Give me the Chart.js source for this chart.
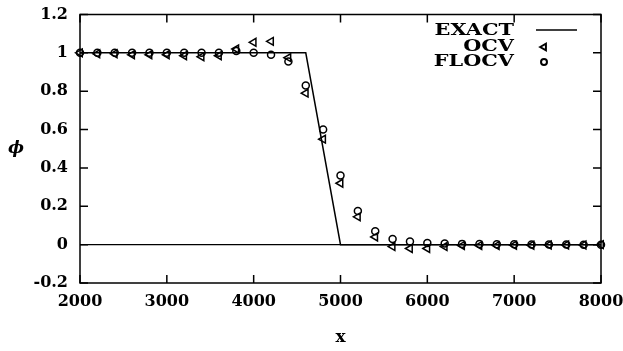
<!DOCTYPE html>
<html>
<head>
<meta charset="utf-8">
<script src="https://cdn.jsdelivr.net/npm/chart.js@4/dist/chart.umd.min.js"></script>
<style>
  html, body { margin: 0; padding: 0; background: #fff; }
  #wrap { width: 623px; height: 351px; }
</style>
</head>
<body>
<div id="wrap"><canvas id="phiChart" width="623" height="351"></canvas></div>
<script>
// grid positions along x
const xValues = [2000, 2200, 2400, 2600, 2800, 3000, 3200, 3400, 3600, 3800,
  4000, 4200, 4400, 4600, 4800, 5000, 5200, 5400, 5600, 5800,
  6000, 6200, 6400, 6600, 6800, 7000, 7200, 7400, 7600, 7800, 8000];

// OCV scheme
const ocvValues = [1.0, 0.995, 0.995, 0.99, 0.99, 0.99, 0.985, 0.98, 0.985, 1.02,
  1.055, 1.06, 0.975, 0.79, 0.55, 0.32, 0.145, 0.04, -0.01, -0.02,
  -0.02, -0.01, -0.005, -0.005, -0.005, -0.003, -0.003, -0.002, -0.002, -0.002, 0.0];

// FLOCV scheme
const flocvValues = [1.0, 1.0, 1.0, 1.0, 1.0, 1.0, 1.0, 1.0, 1.0, 1.01,
  1.0, 0.99, 0.955, 0.83, 0.6, 0.36, 0.175, 0.07, 0.03, 0.017,
  0.008, 0.006, 0.004, 0.003, 0.002, 0.002, 0.001, 0.001, 0.001, 0.0, 0.0];

// exact solution (ramp)
const exactX = [2000, 4600, 5000, 8000];
const exactY = [1, 1, 0, 0];

const xTicks = [2000, 3000, 4000, 5000, 6000, 7000, 8000];
const yTicks = [-0.2, 0, 0.2, 0.4, 0.6, 0.8, 1, 1.2];

const serif = "'DejaVu Serif', 'Liberation Serif', serif";

function toPoints(xs, ys) {
  return xs.map((x, i) => ({ x: x, y: ys[i] }));
}

// frame, inward ticks on all four sides, upright phi label and the key
const framePlugin = {
  id: "frame",
  afterDraw(chart) {
    const ctx = chart.ctx;
    const a = chart.chartArea;
    const xs = chart.scales.x;
    const ys = chart.scales.y;
    const len = 8;
    ctx.save();
    ctx.strokeStyle = "#000";
    ctx.lineWidth = 1.5;
    ctx.strokeRect(a.left, a.top, a.right - a.left, a.bottom - a.top);
    ctx.beginPath();
    xs.ticks.forEach((t) => {
      const px = xs.getPixelForValue(t.value);
      ctx.moveTo(px, a.bottom);
      ctx.lineTo(px, a.bottom - len);
      ctx.moveTo(px, a.top);
      ctx.lineTo(px, a.top + len);
    });
    ys.ticks.forEach((t) => {
      const py = ys.getPixelForValue(t.value);
      ctx.moveTo(a.left, py);
      ctx.lineTo(a.left + len, py);
      ctx.moveTo(a.right, py);
      ctx.lineTo(a.right - len, py);
    });
    ctx.stroke();

    // y axis title, kept upright
    ctx.fillStyle = "#000";
    ctx.font = "italic bold 17px " + serif;
    ctx.textAlign = "center";
    ctx.textBaseline = "middle";
    ctx.fillText("\u03D5", 16, (a.top + a.bottom) / 2);

    // key: right aligned wide labels with the sample to the right
    const textRight = 514;
    const sampleX = 556;
    const rows = [31, 47, 62];
    const stretch = 1.3;
    chart.data.datasets.forEach((ds, i) => {
      const y = rows[i];
      ctx.save();
      ctx.fillStyle = "#000";
      ctx.font = "bold 16px " + serif;
      ctx.textAlign = "right";
      ctx.translate(textRight, y);
      ctx.scale(stretch, 1);
      ctx.fillText(ds.label, 0, 0);
      ctx.restore();
      ctx.lineWidth = ds.borderWidth;
      if (ds.showLine) {
        ctx.beginPath();
        ctx.moveTo(sampleX - 20, y - 1);
        ctx.lineTo(sampleX + 21, y - 1);
        ctx.stroke();
      } else {
        ctx.save();
        ctx.fillStyle = "rgba(0,0,0,0)";
        ctx.lineWidth = 2;
        Chart.helpers.drawPoint(ctx, {
          pointStyle: ds.pointStyle,
          rotation: ds.rotation || 0,
          radius: ds.pointRadius * 0.85,
          borderWidth: 2
        }, sampleX - 12, y);
        ctx.restore();
      }
    });
    ctx.restore();
  }
};

const ctx = document.getElementById("phiChart").getContext("2d");
const phiChart = new Chart(ctx, {
  type: "scatter",
  data: {
    datasets: [
      {
        label: "EXACT",
        data: toPoints(exactX, exactY),
        showLine: true,
        borderColor: "#000",
        borderWidth: 1.5,
        pointRadius: 0,
        tension: 0
      },
      {
        label: "OCV",
        data: toPoints(xValues, ocvValues),
        pointStyle: "triangle",
        rotation: -90,
        pointRadius: 4.5,
        borderColor: "#000",
        backgroundColor: "rgba(0,0,0,0)",
        borderWidth: 1.5
      },
      {
        label: "FLOCV",
        data: toPoints(xValues, flocvValues),
        pointStyle: "circle",
        pointRadius: 3.5,
        borderColor: "#000",
        backgroundColor: "rgba(0,0,0,0)",
        borderWidth: 1.5
      }
    ]
  },
  options: {
    responsive: false,
    animation: false,
    clip: false,
    layout: { padding: { top: 14.5, right: 22, left: 0, bottom: 0 } },
    plugins: {
      legend: { display: false },
      tooltip: { enabled: false }
    },
    scales: {
      x: {
        type: "linear",
        min: 2000,
        max: 8000,
        afterFit(scale) {
          scale.height = 68;
          scale.paddingLeft = 0;
          scale.paddingRight = 0;
        },
        afterBuildTicks(scale) { scale.ticks = xTicks.map((v) => ({ value: v })); },
        grid: { display: false, drawTicks: false },
        border: { display: false },
        ticks: {
          color: "#000",
          padding: 9,
          maxRotation: 0,
          font: { family: serif, size: 16, weight: "bold" },
          callback: (v) => String(v)
        },
        title: {
          display: true,
          text: "x",
          color: "#000",
          padding: { top: 0, bottom: 3 },
          font: { family: serif, size: 17, weight: "bold" }
        }
      },
      y: {
        type: "linear",
        min: -0.2,
        max: 1.2,
        afterFit(scale) {
          scale.width = 80;
          scale.paddingTop = 0;
          scale.paddingBottom = 0;
        },
        afterBuildTicks(scale) { scale.ticks = yTicks.map((v) => ({ value: v })); },
        grid: {
          drawTicks: false,
          lineWidth: 1.2,
          color: (c) => (c.tick && Math.abs(c.tick.value) < 1e-9 ? "#000" : "rgba(0,0,0,0)")
        },
        border: { display: false },
        ticks: {
          color: "#000",
          padding: 12,
          font: { family: serif, size: 16, weight: "bold" },
          callback: (v) => String(Math.round(v * 10) / 10)
        }
      }
    }
  },
  plugins: [framePlugin]
});
</script>
</body>
</html>
